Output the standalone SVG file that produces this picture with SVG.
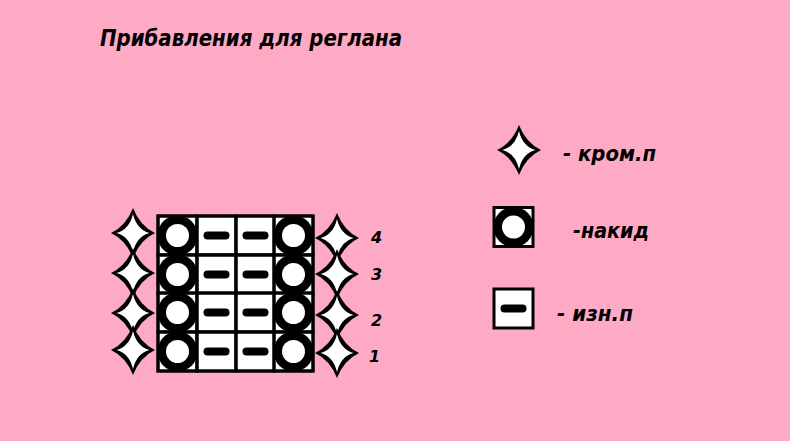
<svg xmlns="http://www.w3.org/2000/svg" width="790" height="441" viewBox="0 0 790 441">
<style>
.t{font-family:"DejaVu Sans","Liberation Sans",sans-serif;font-weight:bold;font-style:italic;fill:#000}
.cell{fill:#fff;stroke:#000;stroke-width:3}
.ring{fill:#000}
.hole{fill:#fff}
.dash{fill:#000}
</style>
<defs>
<g id="star">
<path fill="#000" d="M0,-25 Q7,-7 22,0 Q7,7 0,25 Q-7,7 -22,0 Q-7,-7 0,-25 Z"/>
<path fill="#fff" d="M0,-19 Q3.6,-3.6 16.5,0 Q3.6,3.6 0,19 Q-3.6,3.6 -16.5,0 Q-3.6,-3.6 0,-19 Z"/>
</g>
<g id="yo"><rect class="cell" x="0" y="0" width="39" height="39"/><circle class="ring" cx="19.5" cy="19.5" r="20"/><circle class="hole" cx="19.5" cy="19.5" r="11.5"/></g>
<g id="pu"><rect class="cell" x="0" y="0" width="39" height="39"/><rect class="dash" x="6.5" y="15.5" width="26" height="8" rx="4"/></g>
</defs>
<rect width="790" height="441" fill="#ffaac5"/>
<text class="t" x="100" y="46" font-size="23" textLength="302" lengthAdjust="spacingAndGlyphs">Прибавления для реглана</text>

<g id="chart">
<use href="#yo" x="158" y="216"/><use href="#pu" x="197" y="216"/><use href="#pu" x="236" y="216"/><use href="#yo" x="274" y="216"/>
<use href="#yo" x="158" y="255"/><use href="#pu" x="197" y="255"/><use href="#pu" x="236" y="255"/><use href="#yo" x="274" y="255"/>
<use href="#yo" x="158" y="293"/><use href="#pu" x="197" y="293"/><use href="#pu" x="236" y="293"/><use href="#yo" x="274" y="293"/>
<use href="#yo" x="158" y="332"/><use href="#pu" x="197" y="332"/><use href="#pu" x="236" y="332"/><use href="#yo" x="274" y="332"/>
<path d="M197,216V371M236,216V371M274,216V371M158,255H313M158,293H313M158,332H313" stroke="#000" stroke-width="3"/>
<rect x="158" y="216" width="155" height="155" fill="none" stroke="#000" stroke-width="3"/>
</g>

<g id="left-stars">
<use href="#star" x="133" y="233"/><use href="#star" x="133" y="273"/><use href="#star" x="133" y="313"/><use href="#star" x="133" y="350"/>
</g>
<g id="right-stars">
<use href="#star" x="337" y="238"/><use href="#star" x="337" y="274"/><use href="#star" x="337" y="315"/><use href="#star" x="337" y="353"/>
</g>
<g id="row-numbers">
<text class="t" x="371" y="243" font-size="16">4</text>
<text class="t" x="371" y="280" font-size="16">3</text>
<text class="t" x="371" y="326" font-size="16">2</text>
<text class="t" x="369" y="362" font-size="16">1</text>
</g>

<g id="legend-edge">
<use href="#star" x="519" y="150"/>
<text class="t" x="563" y="161" font-size="22" textLength="93" lengthAdjust="spacingAndGlyphs">- кром.п</text>
</g>
<g id="legend-yo">
<use href="#yo" x="494" y="207.5"/>
<text class="t" x="573" y="238" font-size="22" textLength="76" lengthAdjust="spacingAndGlyphs">-накид</text>
</g>
<g id="legend-purl">
<use href="#pu" x="494" y="289"/>
<text class="t" x="557" y="321" font-size="22" textLength="76" lengthAdjust="spacingAndGlyphs">- изн.п</text>
</g>
</svg>
